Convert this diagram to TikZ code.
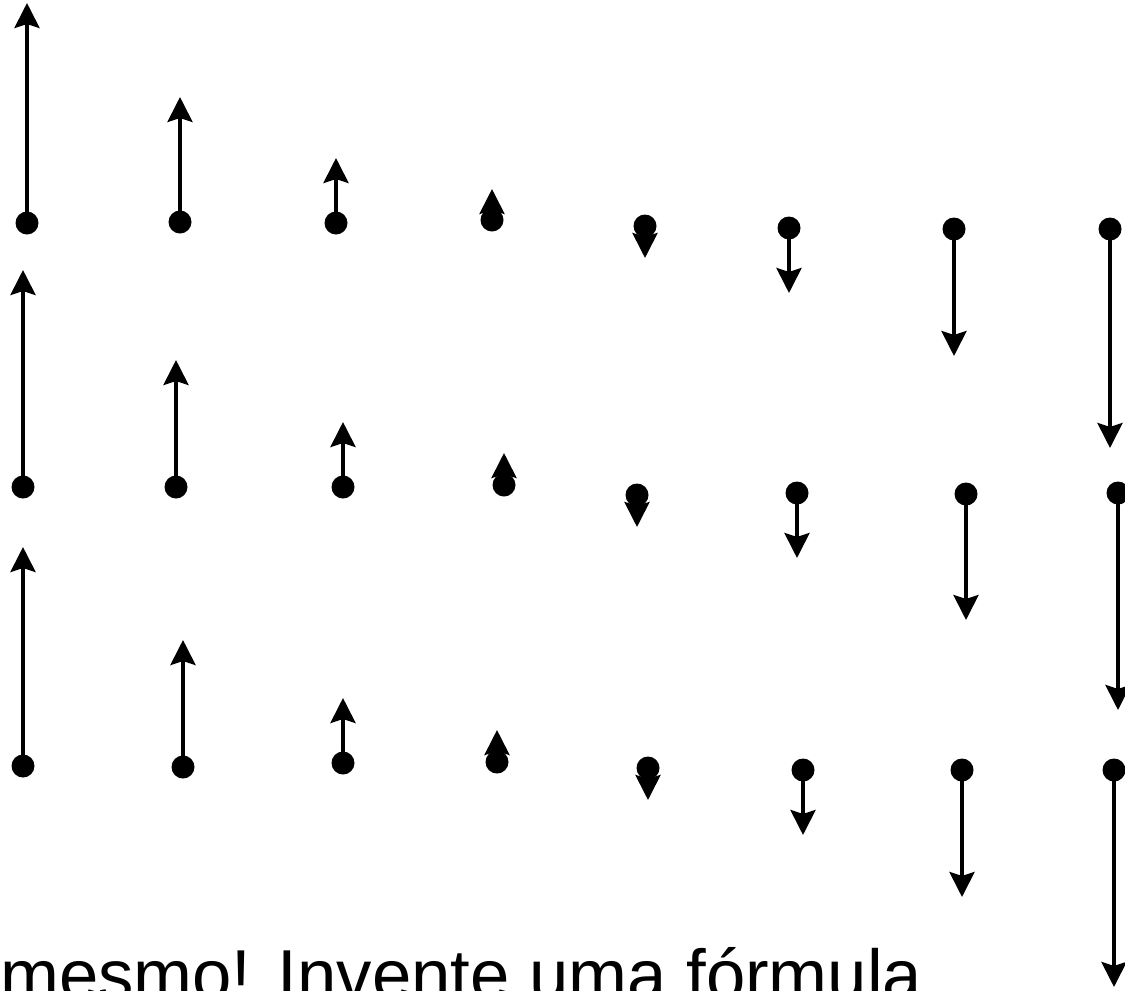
\documentclass[tikz,border=0pt]{standalone}
\usepackage{fontspec}
\setmainfont{Liberation Sans}
\usetikzlibrary{arrows.meta}
\tikzset{
  dot/.style={circle, fill=black, inner sep=0pt, minimum size=23pt},
  vec/.style={line width=4pt, -{Stealth[length=25pt, width=25pt, inset=4pt]}},
  caption/.style={anchor=base west, inner sep=0pt, font=\fontsize{70.7}{85}\selectfont}
}
\begin{document}
\begin{tikzpicture}[x=1pt, y=-1pt]
\useasboundingbox (0,0) rectangle (1125,991);
% each entry: name / x / dot y / tip y
\foreach \n/\x/\d/\t in {
  a1/27/223/3,   a2/180/222/97,  a3/336/223/158, a4/492/220/189,
  a5/645/226/258, a6/789/228/293, a7/954/229/356, a8/1110/229/448,
  b1/23/487/270,  b2/176/487/360, b3/343/487/422, b4/504/485/453,
  b5/637/495/527, b6/797/493/558, b7/966/494/620, b8/1118/493/710,
  c1/23/766/547,  c2/183/767/640, c3/343/763/698, c4/497/762/730,
  c5/648/768/800, c6/803/770/835, c7/962/770/897, c8/1114/770/987}{
  \node[dot] (\n) at (\x,\d) {};
  \coordinate (\n tip) at (\x,\t);
  \draw[vec] (\n.center) -- (\n tip);
}
\node[caption] (txt) at (0,999) {mesmo! Invente uma fórmula};
\end{tikzpicture}
\end{document}
